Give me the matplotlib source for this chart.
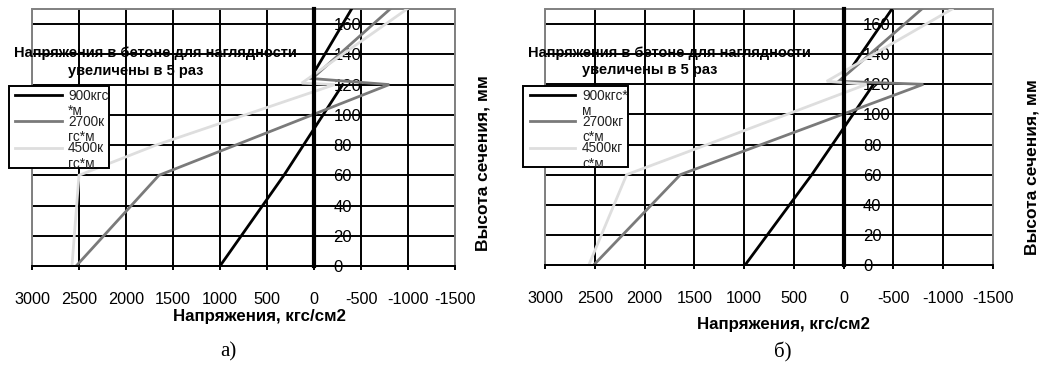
import matplotlib
matplotlib.use('Agg')
import matplotlib.pyplot as plt
from matplotlib.patches import Rectangle
from matplotlib.lines import Line2D

plt.rcParams['font.family'] = ['Liberation Sans', 'DejaVu Sans']
plt.rcParams['axes.unicode_minus'] = False

W, H = 1041, 367
nan = float('nan')

# panel a) stresses (kgf/cm2) vs section height (mm); nan = break steel/concrete
h900_a = [0, 60, 120, nan, 128, 170]
s900_a = [1000, 320, -305, nan, 0, -400]
h2700_a = [0, 60, 120, 124, 170]
s2700_a = [2530, 1650, -800, 20, -810]
h4500_a = [0, 60, 80, 120, 121, 170]
s4500_a = [2575, 2500, 1680, -220, 130, -990]

# panel b)
h900_b = [0, 60, 120, nan, 133, 170]
s900_b = [990, 320, -300, nan, -100, -485]
h2700_b = [0, 60, 120, 122, 170]
s2700_b = [2510, 1640, -800, 50, -785]
h4500_b = [0, 60, 80, 100, 120, 122, 170]
s4500_b = [2560, 2180, 1370, 570, -230, 170, -1090]

labels_a = ['900кгс\n*м', '2700к\nгс*м', '4500к\nгс*м']
labels_b = ['900кгс*\nм', '2700кг\nс*м', '4500кг\nс*м']
colors = ['#000000', '#7a7a7a', '#dedede']

x_ticks = [3000, 2500, 2000, 1500, 1000, 500, 0, -500, -1000, -1500]
y_ticks = [0, 20, 40, 60, 80, 100, 120, 140, 160]

title1 = 'Напряжения в бетоне для наглядности'
title2 = 'увеличены в 5 раз'
xlab = 'Напряжения, кгс/см2'
ylab = 'Высота сечения, мм'


def fx(x):
    return x / W


def fy(y):
    return 1 - y / H


fig = plt.figure(figsize=(W / 100, H / 100), dpi=100)


def panel(box, series, labels, leg, t1, t2, xl, yl, letter):
    left, top, right, bottom = box
    ax = fig.add_axes([fx(left), fy(bottom), fx(right - left), (bottom - top) / H])
    ax.set_xlim(3000, -1500)
    ax.set_ylim(0, 170)
    ax.set_xticks(x_ticks)
    ax.set_xticklabels([str(v) for v in x_ticks])
    ax.set_yticks(y_ticks)
    ax.grid(True, color='black', lw=1.4)
    gl = ax.get_xgridlines()
    gl[0].set_color('#808080')
    gl[-1].set_color('#808080')
    for (h, s), c in zip(series, colors):
        ax.plot(s, h, color=c, lw=2.0, solid_joinstyle='miter', zorder=3)
    ax.add_patch(Rectangle((0, 0), 1, 1, transform=ax.transAxes, fill=False,
                           ec='#808080', lw=1.4, zorder=2.5, clip_on=False))
    for k in ['left', 'top']:
        ax.spines[k].set_visible(False)
    ax.spines['bottom'].set_color('black')
    ax.spines['bottom'].set_linewidth(1.4)
    ax.spines['bottom'].set_zorder(4)
    ax.spines['right'].set_position(('data', 0))
    ax.spines['right'].set_linewidth(3)
    ax.spines['right'].set_zorder(4)
    ax.yaxis.tick_right()
    ax.tick_params(axis='y', direction='inout', length=6, width=1.4,
                   pad=11, labelsize=12)
    ax.tick_params(axis='x', direction='inout', length=6, width=1.4,
                   pad=16, labelsize=11.7)

    # legend
    lx0, ly0, lx1, ly1, sx0, sx1, tx = leg
    rect = Rectangle((fx(lx0), fy(ly1)), fx(lx1 - lx0), (ly1 - ly0) / H,
                     transform=fig.transFigure, fc='white', ec='black', lw=1.4,
                     zorder=5)
    fig.add_artist(rect)
    for i, (lab, c) in enumerate(zip(labels, colors)):
        yy = 95 + i * 26.5
        fig.add_artist(Line2D([fx(sx0), fx(sx1)], [fy(yy), fy(yy)],
                              transform=fig.transFigure, color=c, lw=2.0,
                              zorder=6))
        t = fig.text(fx(tx), fy(yy - 6.5), lab, ha='left', va='top',
                     fontsize=9.8, linespacing=1.12, color='#222222', zorder=6)
        t.set_clip_path(rect)

    fig.text(fx(t1[0]), fy(t1[1]), title1, ha='center', va='center',
             fontsize=10.5, fontweight='bold', zorder=6)
    fig.text(fx(t2[0]), fy(t2[1]), title2, ha='center', va='center',
             fontsize=10.5, fontweight='bold', zorder=6)
    fig.text(fx(xl[0]), fy(xl[1]), xlab, ha='center', va='center',
             fontsize=12.2, fontweight='bold')
    fig.text(fx(yl[0]), fy(yl[1]), ylab, ha='center', va='center',
             fontsize=12.5, fontweight='bold', rotation=90)
    fig.text(fx(letter[1]), fy(letter[2]), letter[0], ha='center', va='center',
             fontsize=15, family='Liberation Serif')
    return ax


panel((32, 9, 455, 266),
      [(h900_a, s900_a), (h2700_a, s2700_a), (h4500_a, s4500_a)],
      labels_a, (9, 86, 109, 168, 15, 62, 68),
      (155, 53), (136, 71), (259, 316), (483, 163), ('а)', 228, 352))

panel((545, 9, 993, 265),
      [(h900_b, s900_b), (h2700_b, s2700_b), (h4500_b, s4500_b)],
      labels_b, (523, 86, 628, 167, 530, 575, 582),
      (669, 53), (650, 70), (783, 324), (1032, 167), ('б)', 783, 352))

fig.savefig('out.png', dpi=100)
